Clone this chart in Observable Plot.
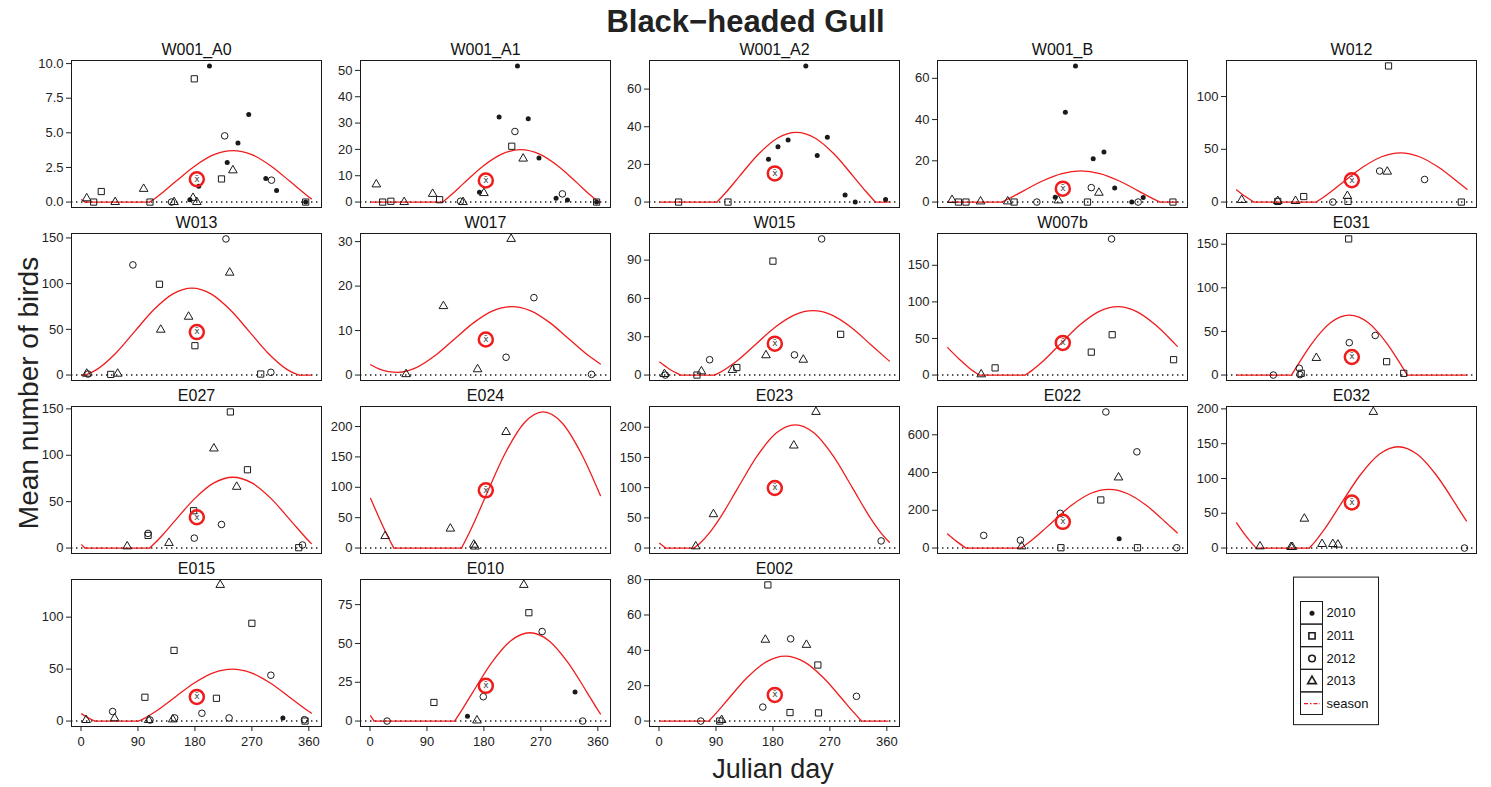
<!DOCTYPE html>
<html><head><meta charset="utf-8">
<script src="https://cdn.jsdelivr.net/npm/d3@7"></script>
<script src="https://cdn.jsdelivr.net/npm/@observablehq/plot@0.6"></script>
<style>
body{margin:0;background:#fff;font-family:"Liberation Sans",Arial,sans-serif;}
#chart{position:relative;width:1491px;height:787px;overflow:hidden;background:#fff;}
.abs{position:absolute;}
</style></head><body><div id="chart"></div>
<script>
const panelNames = ["W001_A0","W001_A1","W001_A2","W001_B","W012","W013","W017","W015","W007b","E031","E027","E024","E023","E022","E032","E015","E010","E002"];
const legendLabels = ["2010","2011","2012","2013","season"];
const xTickValues = [0, 90, 180, 270, 360];
const meanDay = 183;
const meanValues = [1.65, 8.2, 15.2, 6.5, 20.7, 47, 8.0, 24.6, 43.9, 20.7, 33.2, 95, 99.4, 139, 65.5, 23.2, 22.7, 14.8];
const yTicks = [[0,2.5,5,7.5,10],[0,10,20,30,40,50],[0,20,40,60],[0,20,40,60],[0,50,100],
  [0,50,100,150],[0,10,20,30],[0,30,60,90],[0,50,100,150],[0,50,100,150],
  [0,50,100,150],[0,50,100,150,200],[0,50,100,150,200],[0,200,400,600],[0,50,100,150,200],
  [0,50,100],[0,25,50,75],[0,20,40,60,80]];

// observations: [year, julian day, mean number of birds]
const obs_W001_A0 = [[2013,9,0.27],[2011,20,0],[2011,32,0.76],[2013,54,0],[2013,99,0.95],[2011,109,0],[2012,143,0],[2013,147,0],[2010,172,0.17],[2013,177,0.3],[2011,179,8.9],[2013,183,0],[2010,186,1.15],[2010,203,9.83],[2011,222,1.67],[2012,227,4.78],[2010,231,2.86],[2013,240,2.29],[2010,248,4.26],[2010,265,6.33],[2010,292,1.7],[2012,301,1.58],[2010,309,0.84],[2011,355,0],[2010,355,0]];
const obs_W001_A1 = [[2013,10,6.7],[2011,20,0],[2011,33,0.3],[2013,54,0],[2013,99,3.1],[2011,110,0.9],[2012,143,0.3],[2013,147,0],[2010,173,3.75],[2013,180,3.4],[2010,204,32.3],[2011,224,21.2],[2012,229,26.8],[2010,233,51.7],[2013,242,16.5],[2010,250,31.6],[2010,267,16.7],[2010,294,1.4],[2012,304,3.1],[2010,312,0.8],[2011,358,0],[2010,358,0]];
const obs_W001_A2 = [[2011,31,0],[2011,109,0],[2010,173,22.7],[2010,188,29.4],[2010,204,33],[2010,232,72.3],[2010,250,24.7],[2010,266,34.4],[2010,294,3.8],[2010,310,0],[2010,358,1.3]];
const obs_W001_B = [[2013,8,1],[2011,18,0],[2011,30,0],[2013,53,0.3],[2013,96,0.3],[2011,106,0],[2012,142,0],[2010,171,2.3],[2013,176,0.8],[2010,187,43.5],[2010,203,66],[2011,222,0],[2012,228,7],[2010,231,21],[2013,240,4.5],[2010,248,24.3],[2010,265,6.8],[2010,292,0],[2012,302,0],[2010,310,2.2],[2011,357,0]];
const obs_W012 = [[2013,9,2],[2011,66,0.6],[2013,66,1],[2013,94,1],[2011,107,5.2],[2012,153,0],[2013,176,5.8],[2011,177,0.6],[2012,227,29.4],[2013,239,28.8],[2011,241,129],[2012,298,21.4],[2011,356,0]];
const obs_W013 = [[2013,9,1.5],[2012,11,1.1],[2011,47,0.7],[2013,58,1.5],[2012,82,120.5],[2011,124,99.3],[2013,126,49.6],[2013,170,63.8],[2011,180,32.1],[2012,229,148.9],[2013,235,112],[2011,284,1.1],[2012,300,3]];
const obs_W017 = [[2013,57,0.2],[2013,116,15.5],[2013,170,1.3],[2012,215,4],[2013,223,30.6],[2012,259,17.4],[2012,350,0.15]];
const obs_W015 = [[2013,8.6,0.8],[2012,10,0],[2011,60,0],[2013,67,2.9],[2012,80,12],[2013,116,4],[2011,123,5.9],[2013,169,15.5],[2011,180,89.2],[2012,214,15.8],[2013,228,12],[2012,257,106.6],[2011,287,31.9]];
const obs_W007b = [[2013,54,1],[2011,76,9.8],[2011,228,31.3],[2012,260,186],[2011,261,55.1],[2011,358,21]];
const obs_E031 = [[2012,59,0],[2012,100,7.8],[2012,101,0.5],[2011,103,2],[2013,127,19.6],[2011,178,156],[2012,179,37.1],[2012,220,45.4],[2011,238,15.3],[2011,265,2]];
const obs_E027 = [[2013,73,1.8],[2011,106,13.6],[2012,106,15.8],[2013,139,5.5],[2011,178,40.2],[2012,179,10.7],[2013,210,107.3],[2012,222,25.4],[2011,236,146.7],[2013,246,66],[2011,263,84.4],[2011,344,0.4],[2012,350,3.3]];
const obs_E024 = [[2013,24,19.7],[2013,127,32],[2013,164,5.5],[2013,166,2.5],[2013,215,191]];
const obs_E023 = [[2013,58,2.8],[2013,86,56],[2013,213,169.7],[2013,248,225.3],[2012,351,11.8]];
const obs_E022 = [[2012,58,66.9],[2012,116,41.6],[2013,118,9],[2012,179,184],[2011,180,1.8],[2011,243,254.8],[2012,251,721],[2013,271,374],[2010,272,48.8],[2012,300,509.7],[2011,301,1.8],[2012,363,1.8]];
const obs_E032 = [[2013,38,2.4],[2013,87,1.5],[2013,89,1.5],[2013,108,42.2],[2013,136,5.8],[2013,153,5.8],[2013,161,4.9],[2013,217,195.6],[2012,361,0]];
const obs_E015 = [[2013,8,1],[2012,50,9.2],[2013,53,2.6],[2011,101,22.9],[2013,107,1],[2012,109,1],[2013,145,1.6],[2011,147,68],[2012,148,3],[2012,191,7.5],[2011,214,21.9],[2013,220,131],[2012,234,3],[2011,270,94.1],[2012,300,44.1],[2010,319,3],[2012,353,1.3],[2011,354,0]];
const obs_E010 = [[2012,27,0],[2011,101,12],[2010,154,3.1],[2013,169,0.4],[2012,179,15.7],[2013,243,87.7],[2011,251,69.8],[2012,272,57.7],[2010,324,18.8],[2012,336,0]];
const obs_E002 = [[2012,66,0],[2011,96,0],[2013,99,0.6],[2012,164,7.9],[2013,168,46],[2011,172,77],[2011,207,4.8],[2012,208,46.5],[2013,233,43.1],[2011,251,31.7],[2011,252,4.6],[2012,312,14]];

// seasonal curve: [julian day, value]
const season_W001_A0 = [[1,0.17],[6.4,0],[108.6,0],[120,0.37],[130,0.73],[150,1.5],[180,2.61],[210,3.42],[240,3.72],[270,3.42],[300,2.61],[330,1.5],[360,0.37],[364,0.23]];
const season_W001_A1 = [[1,0],[115,0],[128,2.66],[148,7.09],[178,13.52],[208,18.19],[238,19.9],[268,18.19],[298,13.52],[328,7.09],[348,2.66],[361,0],[364,0]];
const season_W001_A2 = [[1,0],[91.8,0],[107,5.58],[127,13.65],[157,25.37],[187,33.89],[217,37],[247,33.89],[277,25.37],[307,13.65],[327,5.58],[342,0],[365,0]];
const season_W001_B = [[1,0],[86.6,0],[101.5,2.25],[121.5,5.55],[151.5,10.34],[181.5,13.83],[211.5,15.1],[241.5,13.83],[271.5,10.34],[301.5,5.55],[321.5,2.25],[336.5,0],[365,0]];
const season_W012 = [[1,11.53],[15,5.26],[28.3,0],[126.7,0],[140,5.26],[170,19.17],[200,32.93],[230,42.94],[260,46.6],[290,42.94],[320,32.93],[350,19.17],[365,12.0]];
const season_W013 = [[1,0],[5,0],[10.3,1.1],[25.3,6.27],[55.3,24.18],[85.3,48.05],[115.3,71.66],[145.3,88.83],[175.3,95.1],[205.3,88.83],[235.3,71.66],[265.3,48.05],[295.3,24.18],[325.3,6.27],[340.3,1.1],[345.5,0],[364,0]];
const season_W017 = [[1,2.33],[14,1.41],[29,0.77],[44,0.61],[74,1.73],[104,4.49],[134,8.16],[164,11.79],[194,14.44],[224,15.4],[254,14.44],[284,11.79],[314,8.16],[344,4.49],[364,2.49]];
const season_W015 = [[1,10.16],[15,5.1],[34.1,0],[87.7,0],[93.4,1.28],[123.4,11.19],[153.4,24.39],[183.4,37.44],[213.4,46.94],[243.4,50.4],[273.4,46.94],[303.4,37.44],[333.4,24.39],[364,10.95]];
const season_W007b = [[1,37.47],[20,21.17],[35,9.79],[51,0],[123.5,0],[135,6.74],[149.75,17.38],[179.75,43.0],[209.75,68.34],[239.75,86.77],[269.75,93.5],[299.75,86.77],[329.75,68.34],[359.75,43.0],[364,39.2]];
const season_E031 = [[1,0],[87.7,0],[104.2,19.2],[119.2,35.4],[134.2,49.26],[149.2,59.87],[164.2,66.5],[179.2,68.8],[194.2,66.5],[209.2,59.87],[224.2,49.26],[239.2,35.4],[254.2,19.2],[270.7,0],[365,0]];
const season_E027 = [[1,3.45],[6.3,0],[108.6,0],[120,7.55],[130,14.9],[150,30.69],[180,53.57],[210,70.22],[240,76.3],[270,70.22],[300,53.57],[330,30.69],[360,7.55],[364,4.8]];
const season_E024 = [[1,81.65],[15,48.4],[30,15.23],[37.6,0],[144.6,0],[153.6,18.09],[168.6,51.66],[183.6,87.4],[213.6,155.93],[243.6,205.8],[273.6,224],[303.6,205.8],[333.6,155.93],[364,86.4]];
const season_E023 = [[1,7.8],[10.4,0],[55,0],[65.2,8.45],[80,25.5],[95.2,47.9],[125.2,100.5],[155.2,152.5],[185.2,190.3],[215.2,204],[245.2,190.3],[275.2,152.5],[305.2,100.5],[335.2,47.9],[350,26.1],[364,9.6]];
const season_E022 = [[1,74.3],[15,35.4],[30.1,0],[116.4,0],[125,19.2],[135.75,46.73],[150,87.56],[165.75,135.65],[195.75,223.57],[225.75,287.55],[255.75,311],[285.75,287.55],[315.75,223.57],[345.75,135.65],[355,107.2],[364,80.1]];
const season_E032 = [[1,36.35],[15,18.2],[31.7,0],[116,0],[125,9.2],[136.35,22.73],[151.35,42.77],[166.35,64.09],[196.35,104.98],[226.35,134.74],[256.35,145.6],[286.35,134.74],[316.35,104.98],[346.35,64.09],[355,51.7],[364,39.1]];
const season_E015 = [[1,6.88],[10,3.6],[22.1,0],[91,0],[100,2.65],[119,9.67],[149,23.25],[179,36.67],[209,46.43],[239,50],[269,46.43],[299,36.67],[329,23.25],[359,9.67],[364,7.65]];
const season_E010 = [[1,3.32],[6.4,0],[133.8,0],[147.6,8.69],[162.6,18.69],[192.6,37.86],[222.6,51.81],[252.6,56.9],[282.6,51.81],[312.6,37.86],[342.6,18.69],[357.6,8.69],[364,4.57]];
const season_E002 = [[1,0],[78.9,0],[94.45,6.15],[109.45,12.48],[139.45,24.63],[169.45,33.47],[199.45,36.7],[229.45,33.47],[259.45,24.63],[289.45,12.48],[304.45,6.15],[320,0],[362,0]];

const obsList = [obs_W001_A0,obs_W001_A1,obs_W001_A2,obs_W001_B,obs_W012,obs_W013,obs_W017,obs_W015,obs_W007b,obs_E031,obs_E027,obs_E024,obs_E023,obs_E022,obs_E032,obs_E015,obs_E010,obs_E002];
const seasonList = [season_W001_A0,season_W001_A1,season_W001_A2,season_W001_B,season_W012,season_W013,season_W017,season_W015,season_W007b,season_E031,season_E027,season_E024,season_E023,season_E022,season_E032,season_E015,season_E010,season_E002];

// ---------- layout ----------
const FONT = "'Liberation Sans', Arial, sans-serif";
const frameLefts = [71, 359.75, 648.5, 937.25, 1226];
const frameTops = [60, 233, 406, 579];
const frameW = 250, frameH = 147;
const xDomain = [-15, 380];
const RED = "#f01c1c";
const INK = "#1a1a1a";

const chart = document.getElementById("chart");
function place(el, left, top) {
  el.style.position = "absolute";
  el.style.left = left + "px";
  el.style.top = top + "px";
  chart.appendChild(el);
}

// split a season curve so that the flat (clipped) parts and the humps are separate paths (keeps the kinks)
function splitSeason(pts) {
  const out = [];
  let seg = 0, prevFlat = null;
  out.push({day: pts[0][0], value: pts[0][1], seg});
  for (let i = 1; i < pts.length; i++) {
    const flat = pts[i - 1][1] === 0 && pts[i][1] === 0;
    if (prevFlat !== null && flat !== prevFlat) {
      seg++;
      out.push({day: pts[i - 1][0], value: pts[i - 1][1], seg});
    }
    out.push({day: pts[i][0], value: pts[i][1], seg});
    prevFlat = flat;
  }
  return out;
}

panelNames.forEach((name, i) => {
  const row = Math.floor(i / 5), col = i % 5;
  const showX = row === 3;
  const obs = obsList[i].map(([year, day, value]) => ({year, day, value}));
  const season = splitSeason(seasonList[i]);
  const ticks = yTicks[i];
  const ymax = d3.max([d3.max(obs, d => d.value), d3.max(season, d => d.value), meanValues[i]]);
  const fmt = ticks.some(t => !Number.isInteger(t)) ? d3.format(".1f") : d3.format("d");
  const mL = 40, mR = 2, mT = 28, mB = showX ? 34 : 2;
  const byYear = y => obs.filter(d => d.year === y);
  const plot = Plot.plot({
    width: mL + frameW + mR,
    height: mT + frameH + mB,
    marginLeft: mL, marginRight: mR, marginTop: mT, marginBottom: mB,
    style: {background: "transparent", overflow: "visible", fontFamily: FONT, color: INK},
    x: {domain: xDomain, axis: showX ? undefined : null},
    y: {domain: [-0.04 * ymax, 1.04 * ymax]},
    marks: [
      Plot.ruleY([0], {stroke: INK, strokeWidth: 1.5, strokeDasharray: "1.4,3.6"}),
      Plot.line(season, {x: "day", y: "value", z: "seg", curve: "monotone-x", stroke: RED, strokeWidth: 1.3}),
      Plot.dot(byYear(2010), {x: "day", y: "value", r: 2.5, fill: INK, stroke: "none"}),
      Plot.dot(byYear(2011), {x: "day", y: "value", symbol: "square", r: 3.5, fill: "none", stroke: INK, strokeWidth: 1}),
      Plot.dot(byYear(2012), {x: "day", y: "value", symbol: "circle", r: 3.3, fill: "none", stroke: INK, strokeWidth: 1}),
      Plot.dot(byYear(2013), {x: "day", y: "value", symbol: "triangle", r: 3.2, fill: "none", stroke: INK, strokeWidth: 1}),
      Plot.dot([meanValues[i]], {x: () => meanDay, y: d => d, r: 7, fill: "none", stroke: RED, strokeWidth: 2.5}),
      Plot.text([meanValues[i]], {x: () => meanDay, y: d => d, text: () => "x\u0304", fontSize: 9, fill: "#444", fontFamily: "DejaVu Sans", dy: -0.5}),
      Plot.frame({stroke: INK, strokeWidth: 1}),
      Plot.axisY({ticks, tickFormat: fmt, tickSize: 5, tickPadding: 3, fontSize: 13, label: null, color: "#222"}),
      ...(showX ? [Plot.axisX({ticks: xTickValues, tickSize: 5, tickPadding: 5, fontSize: 13, label: null, color: "#222"})] : []),
      Plot.text([name], {frameAnchor: "top", dy: -11, fontSize: 16, fill: "#111", lineAnchor: "middle"})
    ]
  });
  place(plot, frameLefts[col] - mL, frameTops[row] - mT);
});

// ---------- legend ----------
const legendW = 86, legendH = 149;
const legend = Plot.plot({
  width: legendW, height: legendH, margin: 0,
  style: {background: "transparent", overflow: "visible", fontFamily: FONT, color: INK},
  x: {domain: [0, legendW], range: [0, legendW], axis: null},
  y: {domain: [0, legendLabels.length], range: [24.5, 137.5], axis: null},
  marks: [
    Plot.rect([0], {x1: 0.5, x2: legendW - 0.5, y1: -1.08, y2: 5.45, fill: "none", stroke: INK}),
    Plot.rect(legendLabels, {x1: 7.5, x2: 29.5, y1: (d, i) => i, y2: (d, i) => i + 1, fill: "none", stroke: INK}),
    Plot.dot([0], {x: 18.5, y: 0.5, r: 2.5, fill: INK}),
    Plot.dot([1], {x: 18.5, y: 1.5, r: 3.5, symbol: "square", fill: "none", stroke: INK, strokeWidth: 1.6}),
    Plot.dot([2], {x: 18.5, y: 2.5, r: 3.3, symbol: "circle", fill: "none", stroke: INK, strokeWidth: 1.6}),
    Plot.dot([3], {x: 18.5, y: 3.5, r: 3.2, symbol: "triangle", fill: "none", stroke: INK, strokeWidth: 1.6}),
    Plot.link([4], {x1: 10.5, x2: 26.5, y1: 4.5, y2: 4.5, stroke: RED, strokeWidth: 1.3, strokeDasharray: "4,2,1.5,2"}),
    Plot.text(legendLabels, {x: 33, y: (d, i) => i + 0.5, text: d => d, textAnchor: "start", fontSize: 13, fill: "#111"})
  ]
});
place(legend, 1293, 577);

// ---------- titles ----------
const title = document.createElement("div");
title.textContent = "Black\u2212headed Gull";
Object.assign(title.style, {width: "1491px", textAlign: "center", fontSize: "31px", fontWeight: "bold", color: "#222", lineHeight: "36px"});
place(title, 0, 4);

const xlab = document.createElement("div");
xlab.textContent = "Julian day";
Object.assign(xlab.style, {width: "400px", textAlign: "center", fontSize: "27px", color: "#222", lineHeight: "32px"});
place(xlab, 773 - 200, 753);

const ylab = document.createElement("div");
ylab.textContent = "Mean number of birds";
Object.assign(ylab.style, {width: "400px", textAlign: "center", fontSize: "28px", color: "#222", lineHeight: "32px", transform: "rotate(-90deg)", transformOrigin: "200px 16px"});
place(ylab, 29 - 200, 393 - 16);
</script></body></html>
